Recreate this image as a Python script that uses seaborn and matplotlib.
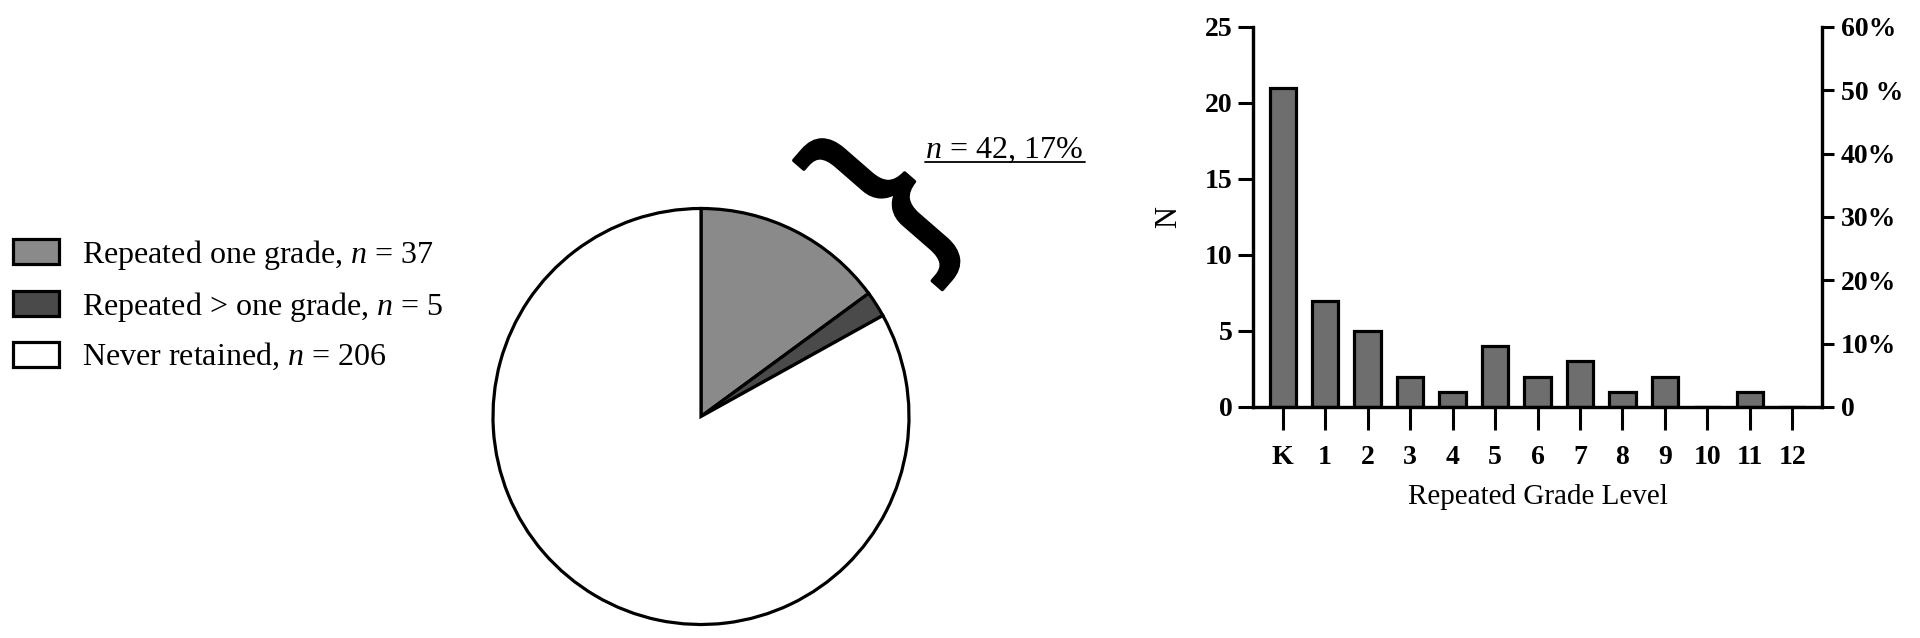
import matplotlib
matplotlib.use("Agg")
import matplotlib.pyplot as plt
import matplotlib.patheffects as pe
import seaborn as sns
import pandas as pd

# donnees
pie_labels = ["Repeated one grade, $n$ = 37",
              "Repeated > one grade, $n$ = 5",
              "Never retained, $n$ = 206"]
pie_values = [37, 5, 206]
pie_colors = ["#8a8a8a", "#4a4a4a", "#ffffff"]

grades = ["K", "1", "2", "3", "4", "5", "6", "7", "8", "9", "10", "11", "12"]
counts = [21, 7, 5, 2, 1, 4, 2, 3, 1, 2, 0, 1, 0]
pct_ticks = [0, 10, 20, 30, 40, 50, 60]
pct_labels = ["0", "10%", "20%", "30%", "40%", "50 %", "60%"]

sns.set_style("white")
plt.rcParams["font.family"] = ["Liberation Serif", "DejaVu Serif"]
plt.rcParams["mathtext.fontset"] = "custom"
plt.rcParams["mathtext.rm"] = "Liberation Serif"
plt.rcParams["mathtext.it"] = "Liberation Serif:italic"
for k in ["text.color", "axes.labelcolor", "xtick.color", "ytick.color", "axes.edgecolor"]:
    plt.rcParams[k] = "black"

W, H = 1920, 638
fig = plt.figure(figsize=(W / 100, H / 100), dpi=100)

# camembert
ax_pie = fig.add_axes([441 / W, (221.5 - 260) / H, 520 / W, 520 / H])
wedges, _ = ax_pie.pie(pie_values, colors=pie_colors, startangle=90, counterclock=False,
                       wedgeprops=dict(edgecolor="black", linewidth=2.3))

fig.legend(wedges, pie_labels, loc="upper left", bbox_to_anchor=(13 / W, 1 - 238 / H),
           frameon=False, fontsize=23, handlelength=1.45, handleheight=0.82,
           handletextpad=0.72, labelspacing=0.55, borderpad=0, borderaxespad=0)

# accolade + etiquette
ov = fig.add_axes([0, 0, 1, 1])
ov.set_xlim(0, W)
ov.set_ylim(H, 0)
ov.axis("off")
ov.text(889, 201, "}", fontsize=152, fontweight="normal", family="Liberation Sans",
        rotation=49, rotation_mode="anchor", ha="center", va="center", color="black",
        path_effects=[pe.withStroke(linewidth=2.5, foreground="black")])
ov.text(925, 158, "$n$ = 42, 17%", fontsize=23, ha="left", va="baseline")
ov.plot([925, 1085], [162, 162], color="black", lw=1.3)

# barres
ax = fig.add_axes([1253 / W, (638 - 407) / H, 569 / W, 380 / H])
df = pd.DataFrame({"grade": grades, "n": counts})
sns.barplot(data=df, x="grade", y="n", order=grades, color="#6e6e6e", saturation=1,
            edgecolor="black", linewidth=2.3, width=0.62, ax=ax)
ax.set_xlim(-0.7, 12.7)
ax.set_ylim(0, 25)
ax.set_yticks([0, 5, 10, 15, 20, 25])
ax.set_xlabel("Repeated Grade Level", fontsize=21, labelpad=10)
ax.set_ylabel("N", fontsize=22, labelpad=16)
ax.spines["top"].set_visible(False)
for s in ["left", "bottom", "right"]:
    ax.spines[s].set_linewidth(2.3)
ax.tick_params(axis="x", length=16.5, width=2.2, pad=11, labelsize=20, direction="out", bottom=True)
ax.tick_params(axis="y", length=10.5, width=2.2, pad=4, labelsize=20, direction="out", left=True)
for lab in ax.get_xticklabels() + ax.get_yticklabels():
    lab.set_fontweight("bold")

ax2 = ax.twinx()
ax2.set_ylim(0, 60)
ax2.set_yticks(pct_ticks)
ax2.set_yticklabels(pct_labels, fontweight="bold")
ax2.tick_params(axis="y", length=8.5, width=2.2, pad=5, labelsize=20, direction="out", right=True)
ax2.spines["top"].set_visible(False)
for s in ["left", "bottom", "right"]:
    ax2.spines[s].set_linewidth(2.3)

plt.savefig("out.png", dpi=100)
